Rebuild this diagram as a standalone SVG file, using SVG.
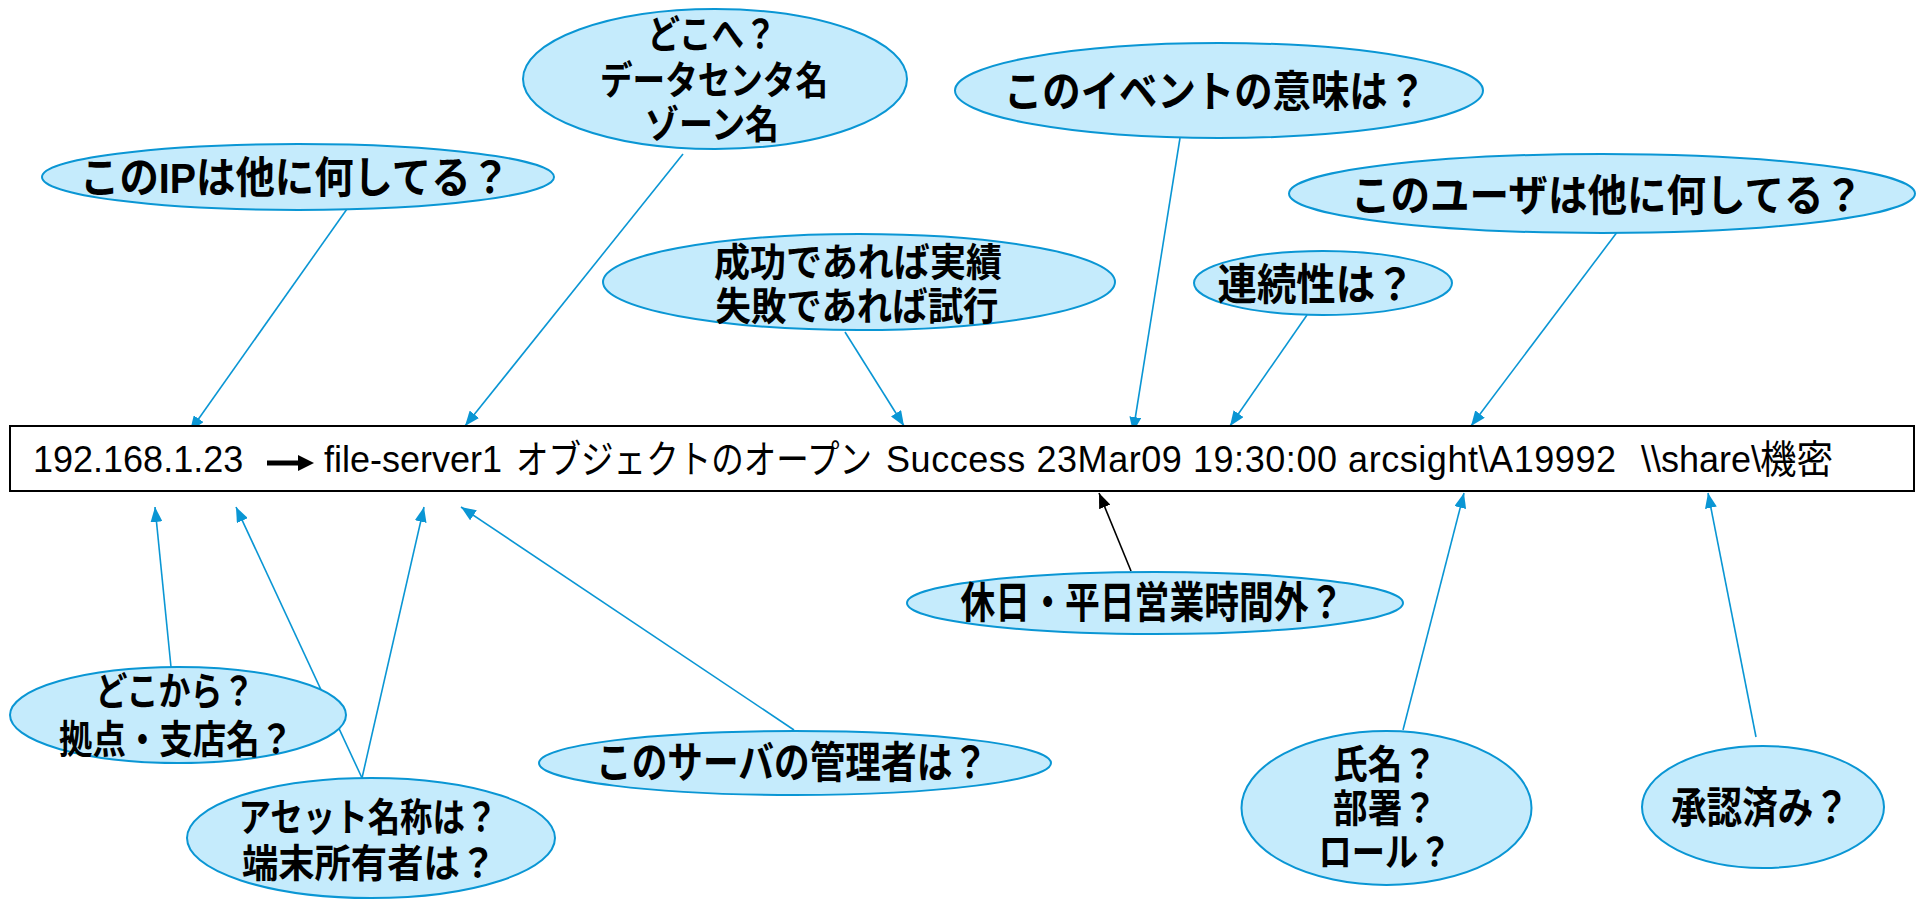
<svg xmlns="http://www.w3.org/2000/svg" width="1917" height="899" viewBox="0 0 1917 899">
<defs>
<marker id="ab" markerUnits="userSpaceOnUse" markerWidth="16" markerHeight="12" refX="15" refY="6" orient="auto"><path d="M0,0 L15,6 L0,12 z" fill="#0A96D4"/></marker>
<marker id="ak" markerUnits="userSpaceOnUse" markerWidth="16" markerHeight="12" refX="15" refY="6" orient="auto"><path d="M0,0 L15,6 L0,12 z" fill="#000"/></marker>
<style>
.bub{fill:#C5EBFC;stroke:#0A96D4;stroke-width:2}
.lbl{font-family:"Liberation Sans","Noto Sans CJK JP",sans-serif;font-weight:bold;font-size:43px;fill:#000;text-anchor:middle}
.sm{font-size:39px}
.c{stroke:#0A96D4;stroke-width:1.6;fill:none;marker-end:url(#ab)}
.ck{stroke:#000;stroke-width:1.6;fill:none;marker-end:url(#ak)}
.ev{font-family:"Liberation Sans","Noto Sans CJK JP",sans-serif;font-size:36px;fill:#000}
.evj{font-family:"Noto Sans CJK JP",sans-serif;font-size:39px;fill:#000}
</style>
</defs>
<rect width="1917" height="899" fill="#fff"/>
<g id="connectors">
<line class="c" x1="347" y1="209" x2="190" y2="431"/>
<line class="c" x1="683" y1="154" x2="465" y2="426"/>
<line class="c" x1="845" y1="332" x2="904" y2="426"/>
<line class="c" x1="1180" y1="138" x2="1133" y2="432"/>
<line class="c" x1="1307" y1="315" x2="1230" y2="426"/>
<line class="c" x1="1627" y1="219" x2="1471" y2="426"/>
<line class="c" x1="171" y1="667" x2="155" y2="507"/>
<line class="c" x1="362" y1="778" x2="236" y2="507"/>
<line class="c" x1="362" y1="778" x2="424" y2="507"/>
<line class="c" x1="794" y1="730" x2="461" y2="507"/>
<line class="ck" x1="1131" y1="571" x2="1099" y2="493"/>
<line class="c" x1="1403" y1="730" x2="1464" y2="493"/>
<line class="c" x1="1756" y1="737" x2="1708" y2="493"/>
</g>
<g id="event">
<rect x="10" y="426" width="1904" height="65" fill="#fff" stroke="#000" stroke-width="2"/>
<text class="ev" x="33" y="472">192.168.1.23</text>
<path d="M267,460.5 H298 V455 L314,463 L298,471 V465.5 H267 z" fill="#000"/>
<text class="ev" x="324" y="472">file-server1</text>
<text class="evj" x="516" y="473" textLength="356" lengthAdjust="spacingAndGlyphs">オブジェクトのオープン</text>
<text class="ev" x="886" y="472" textLength="730" lengthAdjust="spacing">Success 23Mar09 19:30:00 arcsight\A19992</text>
<text class="ev" x="1641" y="472">\\share\</text>
<text class="evj" x="1760" y="473" textLength="73" lengthAdjust="spacingAndGlyphs">機密</text>
</g>
<g id="n-ip">
<ellipse class="bub" cx="298" cy="177" rx="256" ry="33"/>
<text class="lbl" x="295" y="193" textLength="430" lengthAdjust="spacingAndGlyphs">このIPは他に何してる？</text>
</g>
<g id="n-dest">
<ellipse class="bub" cx="715" cy="79" rx="192" ry="70"/>
<text class="lbl sm" x="712" y="48" textLength="129" lengthAdjust="spacingAndGlyphs">どこへ？</text>
<text class="lbl sm" x="714" y="94" textLength="228" lengthAdjust="spacingAndGlyphs">データセンタ名</text>
<text class="lbl sm" x="712" y="138" textLength="134" lengthAdjust="spacingAndGlyphs">ゾーン名</text>
</g>
<g id="n-meaning">
<ellipse class="bub" cx="1219" cy="90.5" rx="264" ry="47.5"/>
<text class="lbl" x="1215" y="107" textLength="422" lengthAdjust="spacingAndGlyphs">このイベントの意味は？</text>
</g>
<g id="n-result">
<ellipse class="bub" cx="859" cy="282" rx="256" ry="48"/>
<text class="lbl sm" x="858" y="276" textLength="288" lengthAdjust="spacingAndGlyphs">成功であれば実績</text>
<text class="lbl sm" x="857" y="320" textLength="283" lengthAdjust="spacingAndGlyphs">失敗であれば試行</text>
</g>
<g id="n-continuity">
<ellipse class="bub" cx="1323" cy="283" rx="129" ry="32"/>
<text class="lbl" x="1316" y="300" textLength="197" lengthAdjust="spacingAndGlyphs">連続性は？</text>
</g>
<g id="n-user">
<ellipse class="bub" cx="1602" cy="193.5" rx="313" ry="39.5"/>
<text class="lbl" x="1607" y="211" textLength="512" lengthAdjust="spacingAndGlyphs">このユーザは他に何してる？</text>
</g>
<g id="n-time">
<ellipse class="bub" cx="1155" cy="603" rx="248" ry="31"/>
<text class="lbl" x="1152" y="618" textLength="383" lengthAdjust="spacingAndGlyphs">休日・平日営業時間外？</text>
</g>
<g id="n-src">
<ellipse class="bub" cx="178" cy="715" rx="168" ry="48"/>
<text class="lbl sm" x="175" y="705" textLength="159" lengthAdjust="spacingAndGlyphs">どこから？</text>
<text class="lbl sm" x="176" y="753" textLength="234" lengthAdjust="spacingAndGlyphs">拠点・支店名？</text>
</g>
<g id="n-asset">
<ellipse class="bub" cx="371" cy="838" rx="184" ry="60"/>
<text class="lbl sm" x="368" y="831" textLength="259" lengthAdjust="spacingAndGlyphs">アセット名称は？</text>
<text class="lbl sm" x="369" y="877" textLength="254" lengthAdjust="spacingAndGlyphs">端末所有者は？</text>
</g>
<g id="n-admin">
<ellipse class="bub" cx="795" cy="763" rx="256" ry="32"/>
<text class="lbl" x="792" y="778" textLength="392" lengthAdjust="spacingAndGlyphs">このサーバの管理者は？</text>
</g>
<g id="n-name">
<ellipse class="bub" cx="1386.5" cy="808" rx="145" ry="77"/>
<text class="lbl sm" x="1385" y="778" textLength="104" lengthAdjust="spacingAndGlyphs">氏名？</text>
<text class="lbl sm" x="1385" y="822" textLength="104" lengthAdjust="spacingAndGlyphs">部署？</text>
<text class="lbl sm" x="1385" y="866" textLength="133" lengthAdjust="spacingAndGlyphs">ロール？</text>
</g>
<g id="n-approved">
<ellipse class="bub" cx="1763" cy="807" rx="121" ry="61"/>
<text class="lbl" x="1760" y="823" textLength="178" lengthAdjust="spacingAndGlyphs">承認済み？</text>
</g>
</svg>
